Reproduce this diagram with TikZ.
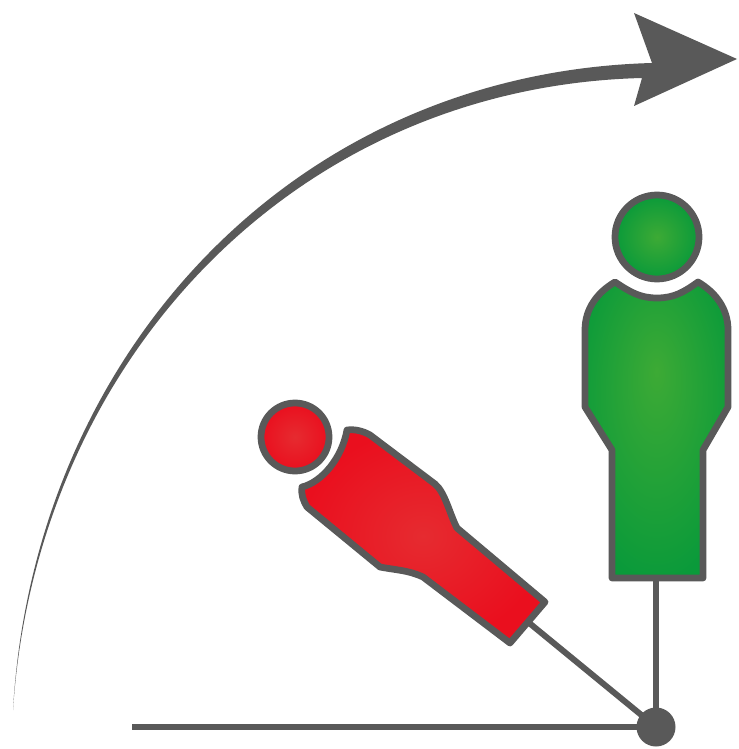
\documentclass[tikz,border=0pt]{standalone}
\usepackage{xcolor}
\definecolor{darkline}{HTML}{595959}
\definecolor{greenin}{HTML}{3DAA35}
\definecolor{greenout}{HTML}{0A9A3A}
\definecolor{redin}{HTML}{E62B30}
\definecolor{redout}{HTML}{EA0F1E}
\pgfdeclareradialshading{greenglow}{\pgfpoint{0bp}{10bp}}{color(0bp)=(greenin); color(30bp)=(greenout); color(50bp)=(greenout)}
\tikzset{
  greenpart/.style={draw=darkline, line width=0.135cm, line join=round, inner color=greenin, outer color=greenout},
  redpart/.style={draw=darkline, line width=0.135cm, line join=round, inner color=redin, outer color=redout},
  stem/.style={draw=darkline, line width=0.12cm}
}
\begin{document}
\begin{tikzpicture}[x=0.02cm, y=-0.02cm]
    \useasboundingbox (0,0) rectangle (738,749);
    % Swing arrow
    \fill[darkline] (13,710) .. controls (33,357) and (290,73) .. (652,63)
        -- (634,13) -- (737,59) -- (634,106) -- (642,78)
        .. controls (292,87) and (36,363) .. (13,710) -- cycle;

    % Pivot and arms
    \coordinate (greenfoot) at (656,578);
    \coordinate (redfoot) at (528,622);
    \coordinate (groundend) at (132,727);
    \node[circle, fill=darkline, minimum size=0.78cm, inner sep=0pt] (pivot) at (656,727) {};
    \draw[stem] (greenfoot) -- (pivot.center);
    \draw[stem] (redfoot) -- (pivot.center);
    \draw[stem] (groundend) -- (pivot.center);

    % Green person
    \shade[greenpart] (657,237) circle (42);
    \shade[greenpart, shading=greenglow] (615,282) .. controls (630,292) and (640,298) .. (657,298)
        .. controls (674,298) and (684,292) .. (698,282)
        .. controls (715,292) and (728,308) .. (728,330) -- (728,407) -- (703,450)
        -- (703,578) -- (612,578) -- (612,450) -- (585,407) -- (585,330)
        .. controls (585,308) and (598,292) .. (615,282) -- cycle;

    % Red person
    \shade[redpart] (295,437) circle (34);
    \shade[redpart] (347,430) .. controls (355,429) and (363,431) .. (370,435)
        -- (435,484) .. controls (445,492) and (450,515) .. (457,528)
        -- (545,602) -- (510,643) -- (423,577)
        .. controls (408,570) and (395,570) .. (380,567)
        -- (307,507) .. controls (303,500) and (301,495) .. (302,487)
        .. controls (322,482) and (342,458) .. (347,430) -- cycle;
\end{tikzpicture}
\end{document}
